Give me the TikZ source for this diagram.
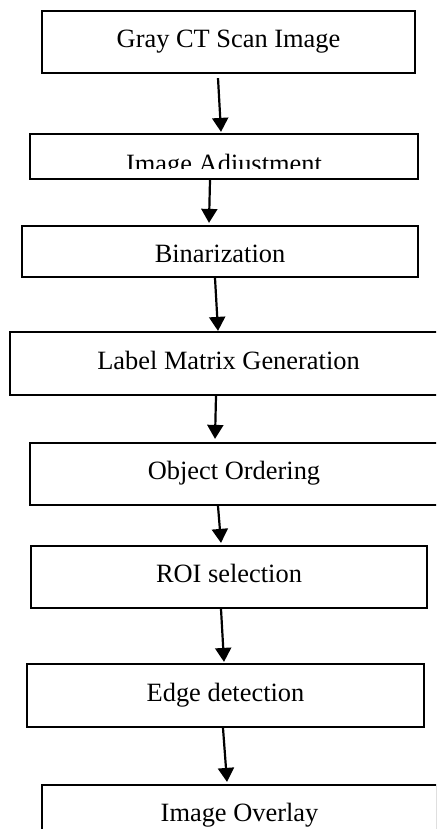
\documentclass[tikz,border=0pt]{standalone}
\usepackage{fontspec}
\setmainfont{Liberation Serif}
\usetikzlibrary{arrows.meta}
\tikzset{%
  >={Triangle[width=16pt,length=14pt]},
  % Specifications for style of nodes:
     base/.style = {rectangle, draw=black, line width=2.2pt, inner sep=0pt,
                    text height=18pt, text depth=7pt,
                    font=\fontsize{26.4}{30}\selectfont},
  process/.style = {base, fill=white},
     flow/.style = {->, line width=2.2pt},
}

\begin{document}
\begin{tikzpicture}[x=1pt, y=1pt]
  \useasboundingbox (0,0) rectangle (436,-829);
  \clip (0,0) rectangle (436,-829);

  % Specification of nodes (position, size)
  \node (grayCT)  [process, minimum width=373, minimum height=62] at (228.5,-42)  {Gray CT Scan Image};
  \node (adjust)  [process, minimum width=388, minimum height=45] at (224,-156.5) {};
  \node (binar)   [process, minimum width=396, minimum height=51,
                   text height=21pt, text depth=0pt] at (220,-251.5) {Binarization};
  \node (labMat)  [process, minimum width=437, minimum height=63] at (228.5,-363.5) {Label Matrix Generation};
  \node (objOrd)  [process, minimum width=408, minimum height=62] at (234,-474)   {Object Ordering};
  \node (roiSel)  [process, minimum width=396, minimum height=62] at (229,-577)   {ROI selection};
  \node (edgeDet) [process, minimum width=397, minimum height=63] at (225.5,-695.5) {Edge detection};
  \node (overlay) [process, minimum width=395, minimum height=62] at (239.5,-816) {Image Overlay};

  % text of the second box sits low and is cut off at the bottom
  \begin{scope}
    \clip (30,-134) rectangle (418,-168.5);
    \node (adjustText) [font=\fontsize{26.4}{30}\selectfont, anchor=base, inner sep=0pt]
      at (224,-172) {Image Adjustment};
  \end{scope}

  % Specification of arrows between nodes
  \draw[flow] ([xshift=-10.5,yshift=-4]grayCT.south) -- ([xshift=-3,yshift=1]adjust.north);
  \draw[flow] ([xshift=-14]adjust.south)             -- ([xshift=-11,yshift=2]binar.north);
  \draw[flow] ([xshift=-5]binar.south)               -- ([xshift=-10.5]labMat.north);
  \draw[flow] ([xshift=-12.5]labMat.south)           -- ([xshift=-19,yshift=3]objOrd.north);
  \draw[flow] ([xshift=-16]objOrd.south)             -- ([xshift=-8,yshift=2]roiSel.north);
  \draw[flow] ([xshift=-8]roiSel.south)              -- ([xshift=-1.5,yshift=1]edgeDet.north);
  \draw[flow] ([xshift=-2.5]edgeDet.south)           -- ([xshift=-12.5,yshift=2]overlay.north);

\end{tikzpicture}
\end{document}
